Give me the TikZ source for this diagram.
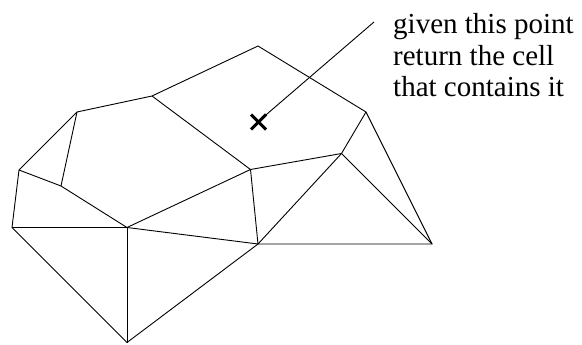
\documentclass[tikz,border=0pt]{standalone}
\usepackage{fontspec}
\setmainfont{Liberation Serif}
\usetikzlibrary{calc}
\begin{document}
\begin{tikzpicture}[x=1pt,y=-1pt,
  edge/.style={line width=0.9pt, line join=miter},
  cross/.style={line width=3pt},
  label/.style={anchor=base west, inner sep=0pt, font=\fontsize{29}{31.5}\selectfont}]
\useasboundingbox (0,0) rectangle (582,345);
\coordinate (A) at (258,46);
\coordinate (B) at (152,96);
\coordinate (C) at (77,112);
\coordinate (D) at (19,170);
\coordinate (E) at (61,186);
\coordinate (F) at (250.5,169.5);
\coordinate (G) at (127,227.5);
\coordinate (H) at (12,227.5);
\coordinate (I) at (127,342.5);
\coordinate (J) at (258,244);
\coordinate (K) at (341.5,153.5);
\coordinate (L) at (432,244);
\coordinate (M) at (366,112);
% outer boundary
\draw[edge] (C) -- (B) -- (A) -- (M) -- (L) -- (J) -- (I) -- (H) -- (D) -- cycle;
% inner edges
\draw[edge] (C) -- (E);
\draw[edge] (D) -- (E) -- (G);
\draw[edge] (H) -- (G) -- (I);
\draw[edge] (G) -- (J);
\draw[edge] (G) -- (F);
\draw[edge] (B) -- (F);
\draw[edge] (F) -- (J);
\draw[edge] (F) -- (K);
\draw[edge] (K) -- (M);
\draw[edge] (K) -- (J);
\draw[edge] (K) -- (L);
% query point
\coordinate (X) at (258.5,122);
\coordinate (P) at (374,22);
\draw[cross] ($(X)+(-7.5,-7.5)$) -- ($(X)+(7.5,7.5)$);
\draw[cross] ($(X)+(-7.5,7.5)$) -- ($(X)+(7.5,-7.5)$);
\draw[edge] ($(X)+(5,-5)$) -- (P);
\node[label] (t1) at (393,34) {given this point};
\node[label] (t2) at (393,65.5) {return the cell};
\node[label] (t3) at (393,97) {that contains it};
\end{tikzpicture}
\end{document}
